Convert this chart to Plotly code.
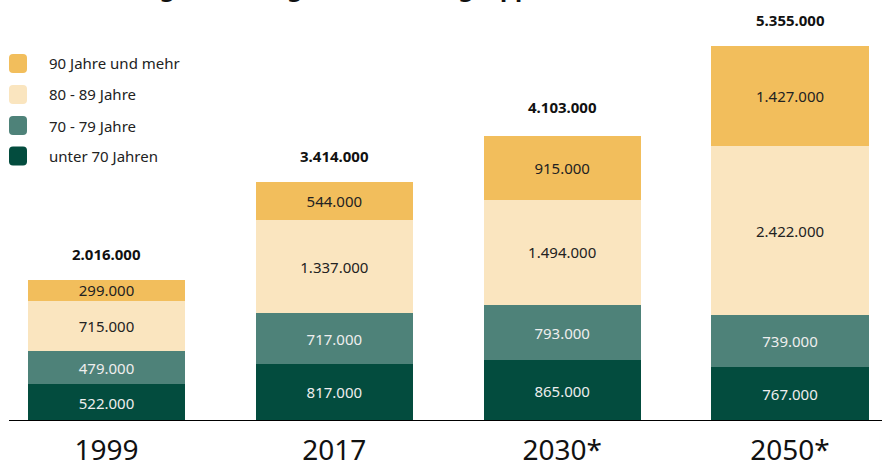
import plotly.graph_objects as go

years = ["1999", "2017", "2030*", "2050*"]
series_names = ["unter 70 Jahren", "70 - 79 Jahre", "80 - 89 Jahre", "90 Jahre und mehr"]
unter70 = [522000, 817000, 865000, 767000]
j70_79 = [479000, 717000, 793000, 739000]
j80_89 = [715000, 1337000, 1494000, 2422000]
j90plus = [299000, 544000, 915000, 1427000]
totals = [2016000, 3414000, 4103000, 5355000]
title_text = "Pflegebedürftige nach Altersgruppen"

colors = ["#034c3e", "#4e8279", "#fae5bf", "#f2be5c"]
text_colors = ["#eeeeee", "#eeeeee", "#222222", "#222222"]
series_values = [unter70, j70_79, j80_89, j90plus]

W, H = 882, 461
PLOT_H = 421
FONT = "Noto Sans"

fig = go.Figure()
for name, vals, c, tc in zip(series_names, series_values, colors, text_colors):
    fig.add_trace(go.Bar(
        x=list(range(len(years))), y=vals, name=name,
        marker=dict(color=c, line=dict(width=0)),
        width=0.69,
        texttemplate="%{y:,.0f}", textposition="inside",
        insidetextanchor="middle",
        textfont=dict(family=FONT, size=15, color=tc),
        hoverinfo="skip", showlegend=False,
    ))

for i, t in enumerate(totals):
    fig.add_annotation(x=i, y=t, xref="x", yref="y",
                       text=f"<b>{t:,.0f}</b>".replace(",", "."),
                       showarrow=False, yanchor="bottom", yshift=14,
                       font=dict(family=FONT, size=15, color="#111111"))

def px_x(p):
    return p / W

def px_y(p):
    return (PLOT_H - p) / PLOT_H

def rounded_rect(x0, y0, x1, y1, r):
    pts = (
        f"M {px_x(x0 + r)},{px_y(y0)} L {px_x(x1 - r)},{px_y(y0)} "
        f"Q {px_x(x1)},{px_y(y0)} {px_x(x1)},{px_y(y0 + r)} "
        f"L {px_x(x1)},{px_y(y1 - r)} Q {px_x(x1)},{px_y(y1)} {px_x(x1 - r)},{px_y(y1)} "
        f"L {px_x(x0 + r)},{px_y(y1)} Q {px_x(x0)},{px_y(y1)} {px_x(x0)},{px_y(y1 - r)} "
        f"L {px_x(x0)},{px_y(y0 + r)} Q {px_x(x0)},{px_y(y0)} {px_x(x0 + r)},{px_y(y0)} Z"
    )
    return pts

legend_centers = [63.5, 94.5, 125.5, 156]
legend_order = [3, 2, 1, 0]
for cy, idx in zip(legend_centers, legend_order):
    fig.add_shape(type="path", xref="paper", yref="paper",
                  path=rounded_rect(9, cy - 9.5, 27, cy + 9.5, 4),
                  fillcolor=colors[idx], line=dict(width=0))
    fig.add_annotation(x=px_x(47), y=px_y(cy), xref="paper", yref="paper",
                       text=series_names[idx], showarrow=False,
                       xanchor="left", yanchor="middle",
                       font=dict(family=FONT, size=15, color="#222222"))

# baseline
fig.add_shape(type="line", xref="paper", yref="y", x0=px_x(9), x1=1, y0=0, y1=0,
              line=dict(color="#000000", width=2))

# clipped title at top
fig.add_annotation(x=px_x(112), y=1.0, xref="paper", yref="paper",
                   text=f"<b>{title_text}</b>", showarrow=False,
                   xanchor="left", yanchor="bottom", yshift=-5,
                   font=dict(family=FONT, size=24, color="#111111"))

x_per_unit = (790 - 106.5) / 3
r0 = -106.5 / x_per_unit
r1 = r0 + W / x_per_unit
ymax = PLOT_H / 70.1 * 1e6

fig.update_layout(
    width=W, height=H,
    margin=dict(l=0, r=0, t=0, b=H - PLOT_H, autoexpand=False),
    paper_bgcolor="white", plot_bgcolor="white",
    barmode="stack",
    separators=",.",
    showlegend=False,
    xaxis=dict(range=[r0, r1], tickvals=list(range(len(years))), ticktext=years,
               showgrid=False, zeroline=False, showline=False, ticks="",
               tickfont=dict(family=FONT, size=28, color="#111111"),
               ticklabelstandoff=10, fixedrange=True, automargin=False),
    yaxis=dict(range=[0, ymax], visible=False, showgrid=False, zeroline=False,
               fixedrange=True, automargin=False),
    uniformtext=dict(minsize=15, mode="show"),
)

fig.write_html("out.html")
